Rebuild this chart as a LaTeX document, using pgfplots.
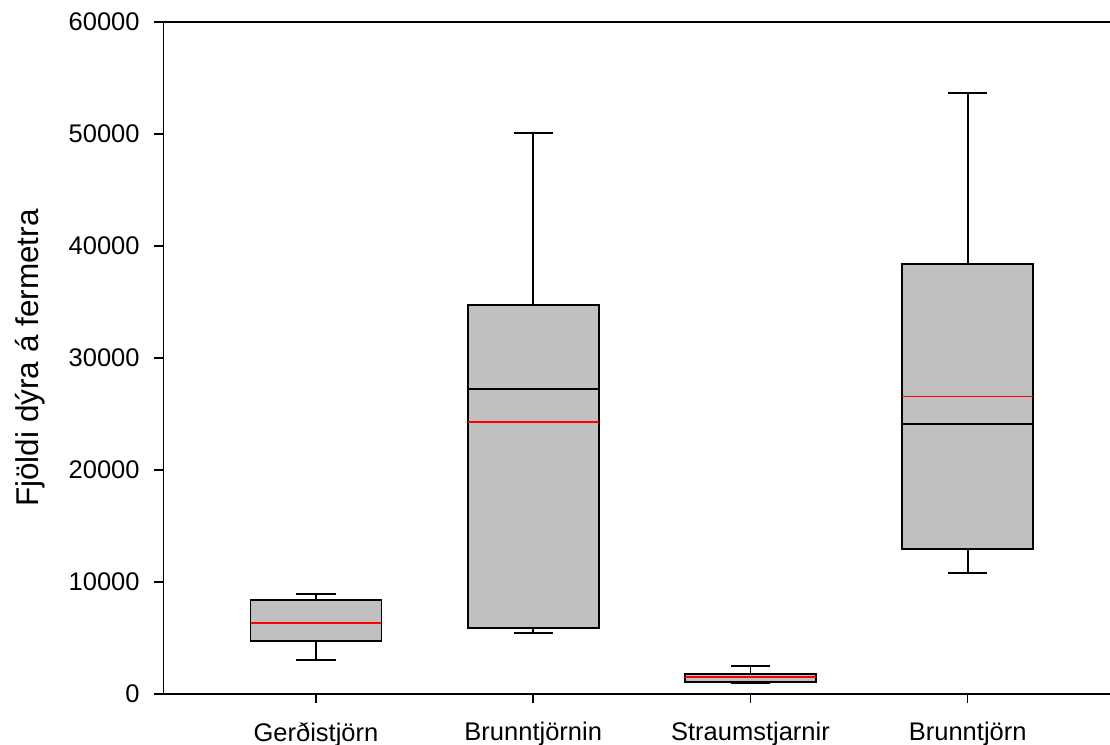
\documentclass[border=0pt]{standalone}
\usepackage{fontspec}
\setmainfont{Liberation Sans}
\usepackage{pgfplots}
\pgfplotsset{compat=1.18}
\definecolor{boxgray}{RGB}{192,192,192}

\newcommand{\lblfont}{\fontsize{12.75}{15}\selectfont}
\newcommand{\ylblfont}{\fontsize{15.75}{18}\selectfont}

\begin{document}
\begin{tikzpicture}
\useasboundingbox (-81.75pt,-25.5pt) rectangle (473.25pt,347pt);
\begin{axis}[
  scale only axis,
  width=473.25pt, height=336pt,
  xmin=0.298, xmax=4.655,
  ymin=0, ymax=60000,
  axis line style={draw=none},
  xtick pos=left, ytick pos=left,
  tick align=outside,
  major tick length=4.5pt,
  every tick/.style={black, line width=0.75pt},
  xtick={1,2,3,4},
  xticklabels={Gerðistjörn,Brunntjörnin,Straumstjarnir,Brunntjörn},
  ytick={0,10000,20000,30000,40000,50000,60000},
  scaled y ticks=false,
  /pgf/number format/1000 sep={},
  /pgf/number format/assume math mode=true,
  tick label style={font=\lblfont, inner sep=0pt},
  xticklabel style={anchor=north, yshift=-9.5pt},
  yticklabel style={anchor=east, xshift=-7.25pt},
  ylabel={Fjöldi dýra á fermetra},
  ylabel style={font=\ylblfont, inner sep=0pt,
    at={(axis description cs:-0.1569,0.5)}, anchor=north},
  clip=false,
  whisk/.style={black, line width=0.85pt, forget plot},
  box/.style={fill=boxgray, draw=black, line width=0.95pt, forget plot},
  mean/.style={red, line width=0.8pt, forget plot},
]
% frame: left, top and bottom spines
\draw[line width=0.75pt] (rel axis cs:1,1) -- (rel axis cs:0,1)
  -- (rel axis cs:0,0) -- (rel axis cs:1,0);

% ---- Gerðistjörn (x=1): 3062 / 4732 / 6340 / 8366 / 8929, mean 6340
\addplot[whisk] coordinates {(1,4732) (1,3062)};
\addplot[whisk] coordinates {(0.91,3062) (1.09,3062)};
\addplot[whisk] coordinates {(1,8366) (1,8929)};
\addplot[whisk] coordinates {(0.91,8929) (1.09,8929)};
\addplot[box] coordinates {(0.6985,4732) (1.3015,4732) (1.3015,8366) (0.6985,8366)} -- cycle;
\addplot[whisk] coordinates {(0.6985,6340) (1.3015,6340)};
\addplot[mean] coordinates {(0.6985,6340) (1.3015,6340)};

% ---- Brunntjörnin (x=2): 5420 / 5893 / 27232 / 34732 / 50060, mean 24286
\addplot[whisk] coordinates {(2,5893) (2,5420)};
\addplot[whisk] coordinates {(1.91,5420) (2.09,5420)};
\addplot[whisk] coordinates {(2,34732) (2,50060)};
\addplot[whisk] coordinates {(1.91,50060) (2.09,50060)};
\addplot[box] coordinates {(1.6985,5893) (2.3015,5893) (2.3015,34732) (1.6985,34732)} -- cycle;
\addplot[whisk] coordinates {(1.6985,27232) (2.3015,27232)};
\addplot[mean] coordinates {(1.6985,24286) (2.3015,24286)};

% ---- Straumstjarnir (x=3): 955 / 1071 / 1500 / 1786 / 2500, mean 1518
\addplot[whisk] coordinates {(3,1071) (3,955)};
\addplot[whisk] coordinates {(2.91,955) (3.09,955)};
\addplot[whisk] coordinates {(3,1786) (3,2500)};
\addplot[whisk] coordinates {(2.91,2500) (3.09,2500)};
\addplot[box] coordinates {(2.6985,1071) (3.3015,1071) (3.3015,1786) (2.6985,1786)} -- cycle;
\addplot[whisk] coordinates {(2.6985,1500) (3.3015,1500)};
\addplot[mean] coordinates {(2.6985,1518) (3.3015,1518)};

% ---- Brunntjörn (x=4): 10804 / 12946 / 24107 / 38393 / 53634, mean 26580
\addplot[whisk] coordinates {(4,12946) (4,10804)};
\addplot[whisk] coordinates {(3.91,10804) (4.09,10804)};
\addplot[whisk] coordinates {(4,38393) (4,53634)};
\addplot[whisk] coordinates {(3.91,53634) (4.09,53634)};
\addplot[box] coordinates {(3.6985,12946) (4.3015,12946) (4.3015,38393) (3.6985,38393)} -- cycle;
\addplot[whisk] coordinates {(3.6985,24107) (4.3015,24107)};
\addplot[mean] coordinates {(3.6985,26580) (4.3015,26580)};
\end{axis}
\end{tikzpicture}
\end{document}
